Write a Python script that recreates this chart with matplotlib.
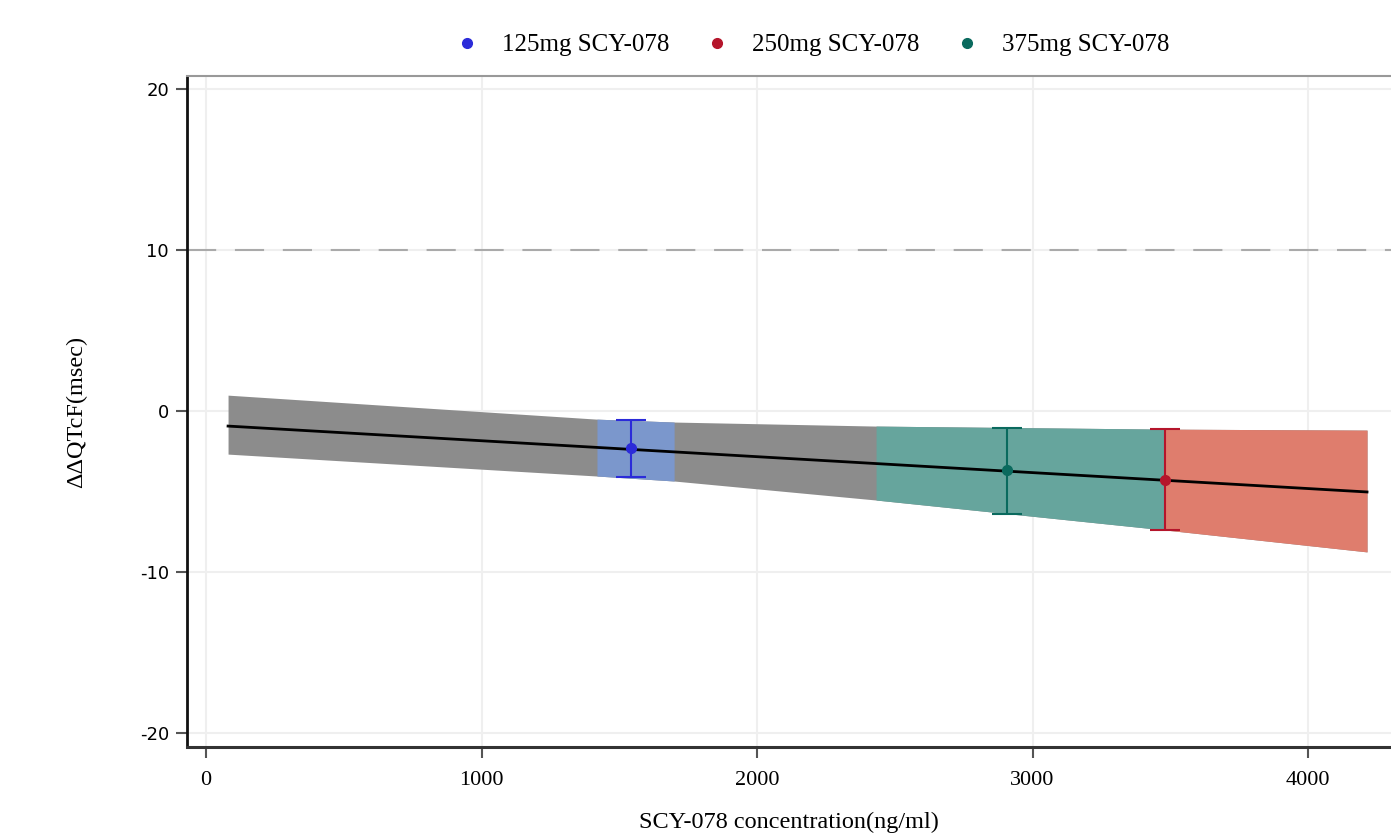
import matplotlib
matplotlib.use("Agg")
import matplotlib.pyplot as plt
import numpy as np

# Confidence band knots (concentration, upper, lower)
band_x = [80, 1419, 1699, 2432, 3481, 4214]
band_upper = [0.99, -0.50, -0.68, -0.93, -1.12, -1.18]
band_lower = [-2.67, -4.03, -4.34, -5.52, -7.38, -8.74]

# Regression line
line_x = [80, 4214]
line_y = [-0.93, -5.02]

# Dose group points
groups = ["125mg SCY-078", "250mg SCY-078", "375mg SCY-078"]
pt_x = [1543, 3481, 2907]
pt_y = [-2.29, -4.28, -3.66]
pt_lo = [-4.09, -7.38, -6.39]
pt_hi = [-0.56, -1.12, -1.05]
pt_colors = ["#2b2bd9", "#b5152b", "#0a6a5e"]
seg_colors = ["#7b97cc", "#df7d6d", "#66a59d"]
# band index ranges for colored segments
seg_idx = [(1, 2), (4, 5), (3, 4)]

xticks = [0, 1000, 2000, 3000, 4000]
yticks = [-20, -10, 0, 10, 20]

plt.rcParams['font.family'] = ['Liberation Serif', 'DejaVu Serif']
plt.rcParams['axes.unicode_minus'] = False

fig = plt.figure(figsize=(13.91, 8.34), dpi=100)
ax = fig.add_axes([187/1391, 1-747/834, 1-187/1391, (747-76)/834])

ax.set_xlim(-69, 4301)
ax.set_ylim(-20.85, 20.8)

ax.fill_between(band_x, band_lower, band_upper, color="#8c8c8c", lw=0, zorder=2)
for (a, b), c in zip(seg_idx, seg_colors):
    ax.fill_between(band_x[a:b+1], band_lower[a:b+1], band_upper[a:b+1],
                    color=c, lw=0, zorder=3)

ax.plot(line_x, line_y, color="black", lw=2, zorder=4)

for i in range(3):
    ax.errorbar([pt_x[i]], [pt_y[i]],
                yerr=[[pt_y[i]-pt_lo[i]], [pt_hi[i]-pt_y[i]]],
                fmt='none', ecolor=pt_colors[i], elinewidth=1.5, capsize=11,
                capthick=1.5, zorder=5)
    ax.plot([pt_x[i]], [pt_y[i]], 'o', color=pt_colors[i], ms=7, zorder=6)

ax.axhline(10, color="#aaaaaa", lw=1.5, ls=(0, (14, 9)), zorder=1)

ax.set_xticks(xticks)
ax.set_yticks(yticks)
ax.grid(True, color="#efefef", lw=1.5, zorder=0)
ax.set_axisbelow(True)

ax.spines['right'].set_visible(False)
ax.spines['top'].set_color("#999999")
ax.spines['top'].set_linewidth(1.5)
ax.spines['left'].set_linewidth(2)
ax.spines['bottom'].set_linewidth(2.2)
ax.spines['left'].set_color("#111111")
ax.spines['bottom'].set_color("#333333")

ax.tick_params(axis='both', direction='out', length=8, width=1.5, color="#555555")
ax.tick_params(axis='x', labelsize=16, pad=9)
ax.tick_params(axis='y', pad=5)
for lab in ax.get_yticklabels():
    lab.set_family(['DejaVu Sans'])
    lab.set_fontsize(13)

ax.set_xlabel("SCY-078 concentration(ng/ml)", fontsize=17.5, labelpad=16)
ax.set_ylabel("ΔΔQTcF(msec)", fontsize=17.5, labelpad=38)

handles = [plt.Line2D([], [], ls='none', marker='o', ms=7, color=c) for c in pt_colors]
fig.legend(handles, groups, loc='center', bbox_to_anchor=(812/1391, 1-45/834),
           ncol=3, frameon=False, fontsize=18, handletextpad=0.9, columnspacing=1.4,
           handlelength=1.0)

fig.savefig("out.png", dpi=100)
